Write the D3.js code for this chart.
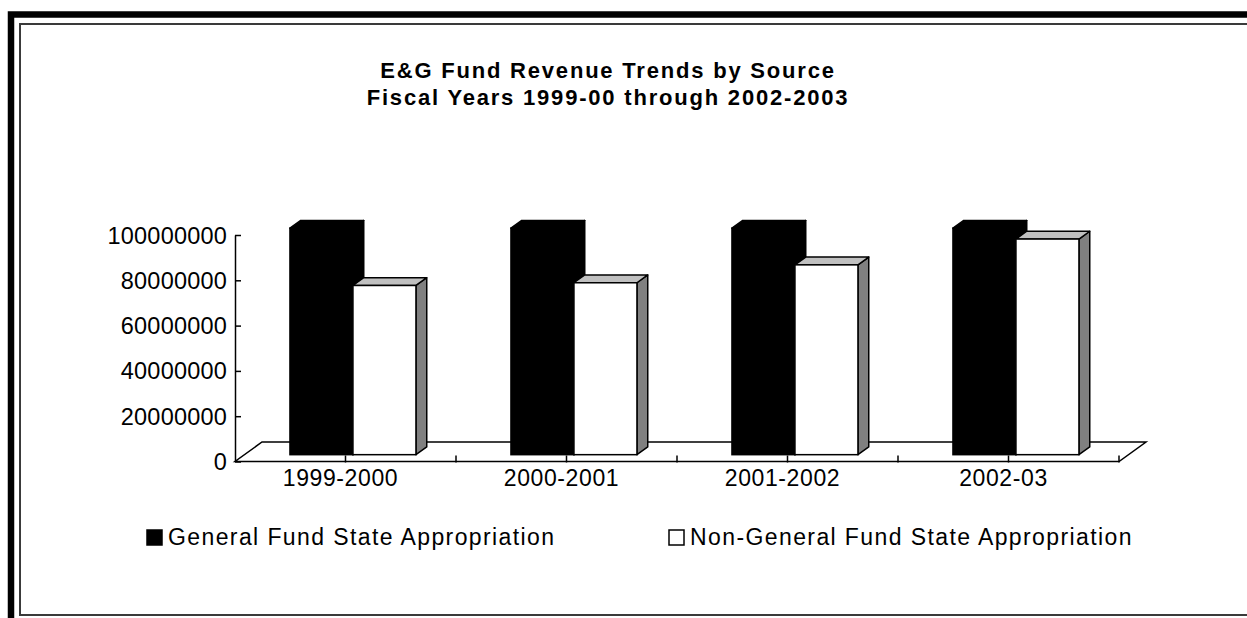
<!DOCTYPE html>
<html>
<head>
<meta charset="utf-8">
<script src="https://cdn.jsdelivr.net/npm/d3@7"></script>
<style>
  html, body { margin: 0; padding: 0; background: #fff; }
  svg { display: block; }
  text { font-family: "Liberation Sans", Arial, sans-serif; fill: #000; }
</style>
</head>
<body>
<svg id="chart" width="1247" height="618"></svg>
<script>
// ---- data ----
const categories = ["1999-2000", "2000-2001", "2001-2002", "2002-03"];
const seriesNames = ["General Fund State Appropriation", "Non-General Fund State Appropriation"];
const generalFund = [100000000, 100000000, 100000000, 100000000];
const nonGeneralFund = [74700000, 75900000, 83800000, 95200000];
const yTicks = [0, 20000000, 40000000, 60000000, 80000000, 100000000];
const titleLines = ["E&G Fund Revenue Trends by Source", "Fiscal Years 1999-00 through 2002-2003"];

const svg = d3.select("#chart");

// ---- frame ----
svg.append("rect").attr("x", 11).attr("y", 14.5).attr("width", 1400).attr("height", 800)
  .attr("fill", "none").attr("stroke", "#000").attr("stroke-width", 6.5);
svg.append("rect").attr("x", 20).attr("y", 24).attr("width", 1400).attr("height", 591)
  .attr("fill", "none").attr("stroke", "#3a3a3a").attr("stroke-width", 2);

// ---- title ----
svg.append("text").attr("x", 608).attr("y", 78).attr("text-anchor", "middle")
  .style("font-size", "22px").style("font-weight", "bold").style("letter-spacing", "1.8px")
  .text(titleLines[0]);
svg.append("text").attr("x", 608).attr("y", 105).attr("text-anchor", "middle")
  .style("font-size", "22px").style("font-weight", "bold").style("letter-spacing", "1.8px")
  .text(titleLines[1]);

// ---- scales ----
const x = d3.scaleBand().domain(categories).range([235, 1119]).padding(0);
const xs = d3.scaleBand().domain(seriesNames).range([-65, 61]).padding(0);
const y = d3.scaleLinear().domain([0, 100000000]).range([461.5, 235]);

// depth geometry (oblique projection)
const floorDepth = [27, -19.5];
const barFrontF = 0.35, barBackF = 0.75;
const fdx = floorDepth[0] * barFrontF, fdy = floorDepth[1] * barFrontF;
const bdx = floorDepth[0] * (barBackF - barFrontF), bdy = floorDepth[1] * (barBackF - barFrontF);

// ---- floor ----
const x0 = x.range()[0], x1 = x.range()[1], y0 = y(0);
svg.append("path")
  .attr("d", `M${x0},${y0} L${x1},${y0} L${x1 + floorDepth[0]},${y0 + floorDepth[1]} L${x0 + floorDepth[0]},${y0 + floorDepth[1]} Z`)
  .attr("fill", "#fff").attr("stroke", "#000").attr("stroke-width", 1.5);

// ---- bars ----
const data = categories.map((c, i) => ({ cat: c, values: [
  { s: seriesNames[0], v: generalFund[i] },
  { s: seriesNames[1], v: nonGeneralFund[i] }
]}));
const styles = {
  [seriesNames[0]]: { front: "#000", top: "#000", side: "#000" },
  [seriesNames[1]]: { front: "#fff", top: "#c0c0c0", side: "#808080" }
};

data.forEach(d => {
  const cx = x(d.cat) + x.bandwidth() / 2;
  d.values.forEach(b => {
    const st = styles[b.s];
    const L = cx + xs(b.s) + fdx, R = L + xs.bandwidth();
    const T = y(b.v) + fdy, B = y(0) + fdy;
    const g = svg.append("g");
    g.append("path")
      .attr("d", `M${R},${B} L${R + bdx},${B + bdy} L${R + bdx},${T + bdy} L${R},${T} Z`)
      .attr("fill", st.side).attr("stroke", "#000").attr("stroke-width", 1.5).attr("stroke-linejoin", "round");
    g.append("path")
      .attr("d", `M${L},${T} L${L + bdx},${T + bdy} L${R + bdx},${T + bdy} L${R},${T} Z`)
      .attr("fill", st.top).attr("stroke", "#000").attr("stroke-width", 1.5).attr("stroke-linejoin", "round");
    g.append("rect").attr("x", L).attr("y", T).attr("width", R - L).attr("height", B - T)
      .attr("fill", st.front).attr("stroke", "#000").attr("stroke-width", 1.5);
  });
});

// ---- category ticks & labels ----
const tickXs = [];
categories.forEach(c => { tickXs.push(x(c) + x.bandwidth() / 2); tickXs.push(x(c) + x.bandwidth()); });
svg.selectAll("line.xt").data(tickXs).enter().append("line")
  .attr("x1", d => d).attr("x2", d => d).attr("y1", y0 - 6).attr("y2", y0 + 1)
  .attr("stroke", "#000").attr("stroke-width", 1.5);
svg.selectAll("text.xl").data(categories).enter().append("text")
  .attr("x", d => x(d) + x.bandwidth() / 2 - 5).attr("y", 486)
  .attr("text-anchor", "middle").style("font-size", "23px").style("letter-spacing", "0.6px")
  .text(d => d);

// ---- value axis ----
const yAxis = d3.axisLeft(y).tickValues(yTicks).tickFormat(d3.format("d"))
  .tickSizeInner(-6).tickSizeOuter(0).tickPadding(8);
const ya = svg.append("g").attr("transform", `translate(${x0},0)`).call(yAxis);
ya.select(".domain").attr("stroke", "#000").attr("stroke-width", 1.5);
ya.selectAll(".tick line").attr("stroke", "#000").attr("stroke-width", 1.5);
ya.selectAll(".tick text").style("font-size", "23.5px").style("font-family", "Liberation Sans, Arial, sans-serif")
  .style("letter-spacing", "0.2px").attr("fill", "#000").attr("dy", "0.34em");

// ---- legend ----
const legendX = [147, 669];
seriesNames.forEach((s, i) => {
  const st = styles[s];
  svg.append("rect").attr("x", legendX[i]).attr("y", 530).attr("width", 15).attr("height", 15)
    .attr("fill", st.front).attr("stroke", "#000").attr("stroke-width", 1.5);
  svg.append("text").attr("x", legendX[i] + 21).attr("y", 545)
    .style("font-size", "23px").style("letter-spacing", "1.4px").text(s);
});
</script>
</body>
</html>
